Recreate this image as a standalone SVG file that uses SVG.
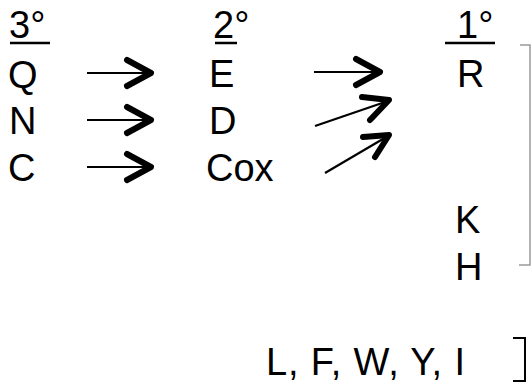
<svg xmlns="http://www.w3.org/2000/svg" width="531" height="383" viewBox="0 0 531 383">
<style>
text{font-family:"Liberation Sans",Arial,sans-serif;font-size:38px;fill:#000}
.ul{stroke:#000;stroke-width:2.5}
.ar{stroke:#000;stroke-width:2.2;fill:none}
.hd{stroke:#000;stroke-width:6;fill:none;stroke-linecap:round;stroke-linejoin:round}
.br1{stroke:#999;stroke-width:1.5;fill:none}
.br2{stroke:#000;stroke-width:2;fill:none}
</style>
<rect width="531" height="383" fill="#fff"/>
<g id="col3">
<text x="9" y="38">3°</text>
<line class="ul" x1="10" y1="43" x2="50" y2="43"/>
</g>
<g id="col2">
<text x="213" y="38">2°</text>
<line class="ul" x1="215" y1="43" x2="237" y2="43"/>
</g>
<g id="col1">
<text x="457" y="38">1°</text>
<line class="ul" x1="445" y1="43" x2="495" y2="43"/>
</g>
<g id="Q"><text x="8" y="88">Q</text></g>
<g id="N"><text x="9" y="134">N</text></g>
<g id="C"><text x="8" y="181">C</text></g>
<g id="E"><text x="209" y="87">E</text></g>
<g id="D"><text x="209" y="134">D</text></g>
<g id="Cox"><text x="206" y="181">Cox</text></g>
<g id="R"><text x="457" y="87">R</text></g>
<g id="K"><text x="455" y="233">K</text></g>
<g id="H"><text x="455" y="280">H</text></g>
<g id="hydrophobic"><text x="266" y="375" textLength="199" lengthAdjust="spacing">L, F, W, Y, I</text></g>
<g id="connectors">
<line class="ar" x1="87" y1="73" x2="150" y2="73"/>
<polyline class="hd" points="127,60 151,73 127,86"/>
<line class="ar" x1="87" y1="120" x2="150" y2="120"/>
<polyline class="hd" points="127,107 151,120 127,133"/>
<line class="ar" x1="87" y1="167" x2="150" y2="167"/>
<polyline class="hd" points="127,154 151,167 127,180"/>
<line class="ar" x1="314" y1="72" x2="380" y2="72"/>
<polyline class="hd" points="356,59 380,72 356,85"/>
<line class="ar" x1="315" y1="126" x2="388" y2="101"/>
<polyline class="hd" points="362,97 389,100 370,120"/>
<line class="ar" x1="325" y1="173" x2="388" y2="136"/>
<polyline class="hd" points="363,137 389,135 375,157"/>
<polyline class="br1" points="520,45 530,45 530,265 519,265"/>
<polyline class="br2" points="513,338 525,338 525,381 513,381"/>
</g>
</svg>
